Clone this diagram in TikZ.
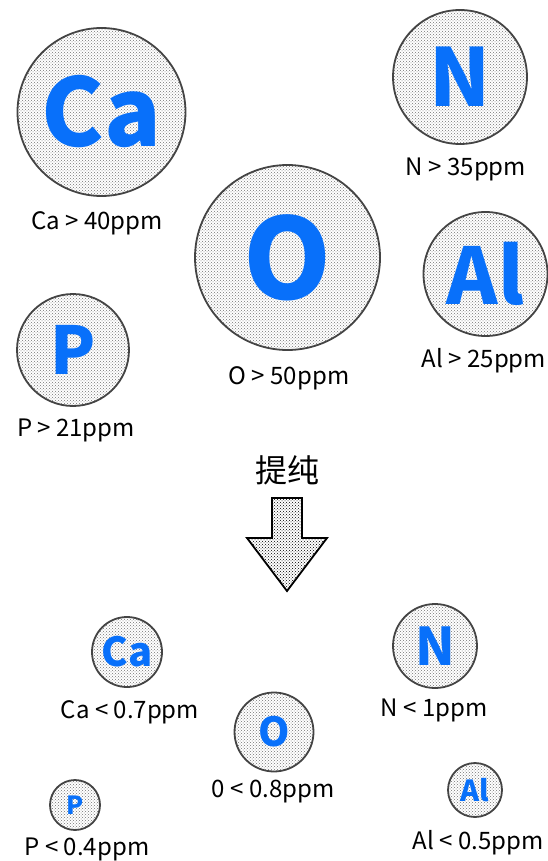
\documentclass[tikz,border=0pt]{standalone}
\usepackage{fontspec}
\setmainfont{Noto Sans CJK SC}
\usetikzlibrary{patterns}
\definecolor{elblue}{RGB}{8,112,250}
\definecolor{ringgray}{RGB}{68,68,68}
\tikzset{
  atom/.style={circle, draw=ringgray, line width=1.8pt, pattern=crosshatch dots, pattern color=black!55, inner sep=0pt, text=elblue, font=\bfseries},
  lbl/.style={inner sep=0pt, font=\fontsize{24}{24}\selectfont, text=black, yshift=-3pt},
  blockarrow/.style={draw=black, line width=1.8pt, line join=miter, pattern=crosshatch dots, pattern color=black}
}
\newcommand{\fsz}[1]{\fontsize{#1}{#1}\selectfont}
\begin{document}
\begin{tikzpicture}[x=1pt,y=-1pt]
\useasboundingbox (0,0) rectangle (548,861);
% top row
\node[atom, minimum size=168pt, font=\bfseries\fsz{94}] (ca1) at (101.5,112) {Ca};
\node[lbl] (ca1l) at (97,220) {Ca > 40ppm};
\node[atom, minimum size=134pt, font=\bfseries\fsz{80}] (n1) at (460,77) {N};
\node[lbl] (n1l) at (466,166) {N > 35ppm};
\node[atom, minimum size=185pt, font=\bfseries\fsz{112}] (o1) at (287.5,257.5) {O};
\node[lbl] (o1l) at (289,375) {O > 50ppm};
\node[atom, minimum size=124pt, font=\bfseries\fsz{78}] (al1) at (485.5,274) {Al};
\node[lbl] (al1l) at (484,358) {Al > 25ppm};
\node[atom, minimum size=112pt, font=\bfseries\fsz{66}] (p1) at (73,350) {P};
\node[lbl] (p1l) at (76,427) {P > 21ppm};
% purification
\node[inner sep=0pt, font=\fsz{32}] (tc) at (287,470) {提纯};
\draw[blockarrow] (272,498) -- (302,498) -- (302,538) -- (327,538) -- (287,591) -- (247,538) -- (272,538) -- cycle;
% bottom row
\node[atom, minimum size=70pt, font=\bfseries\fsz{40}] (ca2) at (127,652) {Ca};
\node[lbl] (ca2l) at (130,709) {Ca < 0.7ppm};
\node[atom, minimum size=84pt, font=\bfseries\fsz{52}] (n2) at (435,646) {N};
\node[lbl] (n2l) at (434,707) {N < 1ppm};
\node[atom, minimum size=79pt, font=\bfseries\fsz{40}] (o2) at (274,732) {O};
\node[lbl] (o2l) at (273,789) {0 < 0.8ppm};
\node[atom, minimum size=50pt, font=\bfseries\fsz{25}] (p2) at (75,805) {P};
\node[lbl] (p2l) at (87,846) {P < 0.4ppm};
\node[atom, minimum size=54pt, font=\bfseries\fsz{29}] (al2) at (475,790) {Al};
\node[lbl] (al2l) at (478,840) {Al < 0.5ppm};
\end{tikzpicture}
\end{document}
